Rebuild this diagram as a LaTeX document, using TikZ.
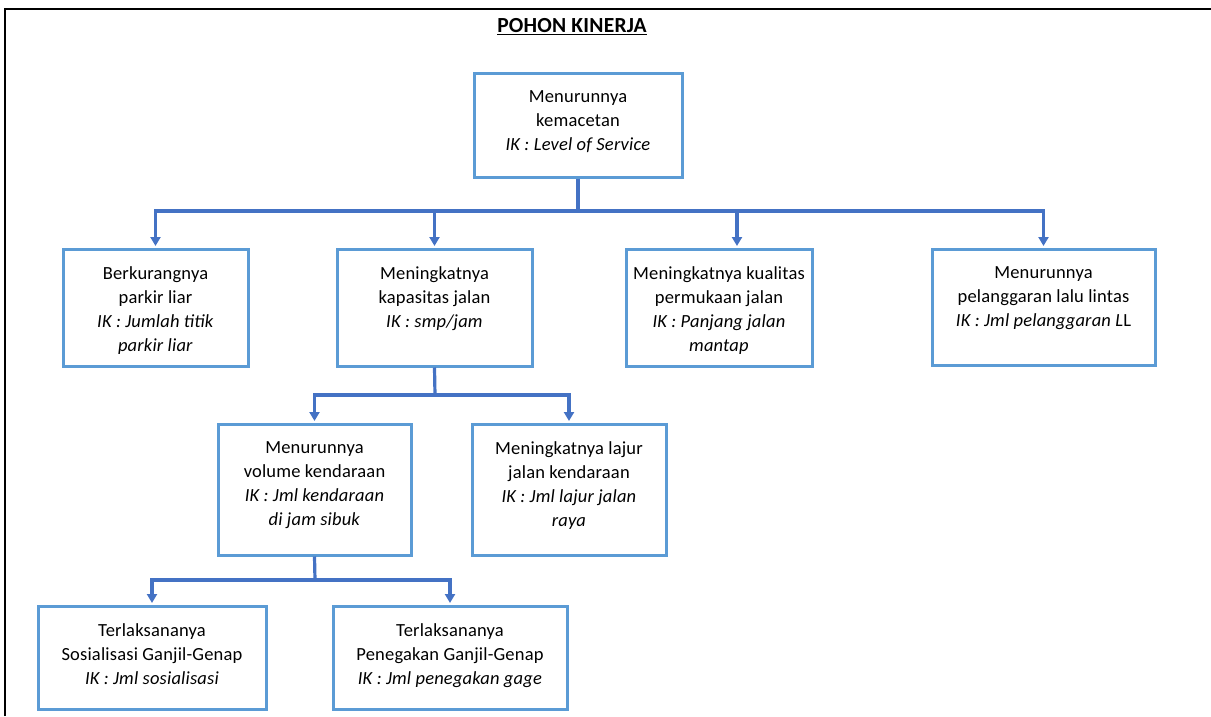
\documentclass[tikz,border=0pt]{standalone}
\usepackage{fontspec}
\setmainfont{Carlito}[LetterSpace=1]
\usetikzlibrary{arrows.meta}
\definecolor{boxblue}{RGB}{91,155,213}
\definecolor{linkblue}{RGB}{68,114,196}
\newcommand\pkbox[6]{%
  \node[pkrect, minimum width={#4-#2}, minimum height={#5-#3}] (#1) at ({(#2+#4)/2},{(#3+#5)/2}) {};
  \node[pktext] (#1-t) at ([yshift=-18.5pt]#1.north) {#6};}
\begin{document}
\begin{tikzpicture}[x=1pt,y=-1pt,
  pkrect/.style={draw=boxblue, line width=3pt, fill=white, inner sep=0pt},
  pktext/.style={anchor=north, inner sep=0pt, align=center, font=\fontsize{18.5}{24}\selectfont},
  link/.style={draw=linkblue, line width=3.2pt},
  arr/.style={link, -{Triangle[width=10pt,length=9pt]}},
  frame/.style={draw=black, line width=2.5pt}]
\useasboundingbox (0,0) rectangle (1211,716);
\draw[frame] (5,716) -- (5,9) -- (1211,9);
\node[font=\fontsize{21.5}{24}\selectfont\bfseries] (title) at (572,27) {\underline{POHON KINERJA}};

\pkbox{top}{474}{73}{682}{177}{Menurunnya\\kemacetan\\\textit{IK : Level of Service}}
\pkbox{b1}{63}{249}{248}{366}{Berkurangnya\\parkir liar\\\textit{IK : Jumlah titik}\\\textit{parkir liar}}
\pkbox{b2}{337}{249}{532}{366}{Meningkatnya\\kapasitas jalan\\\textit{IK : smp/jam}}
\pkbox{b3}{626}{249}{812}{366}{Meningkatnya kualitas\\permukaan jalan\\\textit{IK : Panjang jalan}\\\textit{mantap}}
\pkbox{b4}{932}{249}{1155}{365}{Menurunnya\\pelanggaran lalu lintas\\\textit{IK : Jml pelanggaran L}L}
\pkbox{c1}{218}{424}{411}{555}{Menurunnya\\volume kendaraan\\\textit{IK : Jml kendaraan}\\\textit{di jam sibuk}}
\pkbox{c2}{472}{424}{666}{555}{Meningkatnya lajur\\jalan kendaraan\\\textit{IK : Jml lajur jalan}\\\textit{raya}}
\pkbox{d1}{38}{606}{266}{709}{Terlaksananya\\Sosialisasi Ganjil-Genap\\\textit{IK : Jml sosialisasi}}
\pkbox{d2}{333}{606}{567}{709}{Terlaksananya\\Penegakan Ganjil-Genap\\\textit{IK : Jml penegakan gage}}

\coordinate (j1) at (578,211);
\coordinate (j2) at (435,395);
\coordinate (j3) at (315,580);
\draw[link] (top.south) -- (j1);
\draw[arr] (j1) -| ([yshift=1.5pt]b1.north);
\draw[arr] (j1) -| ([yshift=1.5pt]b2.north);
\draw[arr] (j1) -| ([xshift=18pt,yshift=1.5pt]b3.north);
\draw[arr] (j1) -| ([yshift=1.5pt]b4.north);
\draw[link] (b2.south) -- (j2);
\draw[arr] (j2) -| ([yshift=1.5pt]c1.north);
\draw[arr] (j2) -| ([yshift=1.5pt]c2.north);
\draw[link] (c1.south) -- (j3);
\draw[arr] (j3) -| ([yshift=1.5pt]d1.north);
\draw[arr] (j3) -| ([yshift=1.5pt]d2.north);
\end{tikzpicture}
\end{document}
